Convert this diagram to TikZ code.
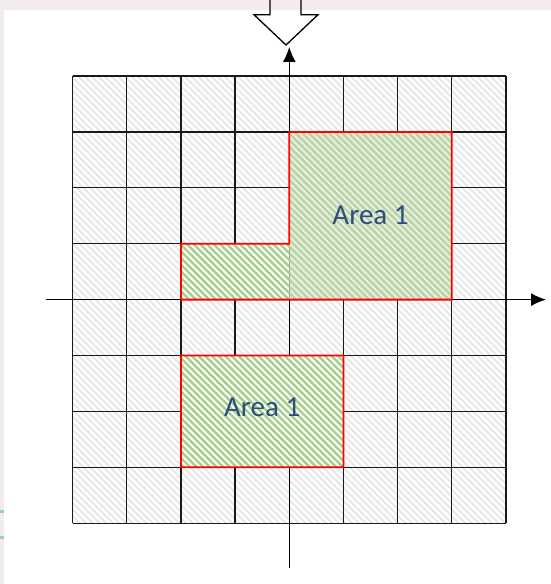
\documentclass[tikz,border=0pt]{standalone}
\usepackage{fontspec}
\setmainfont{Carlito}
\usetikzlibrary{arrows.meta}

\definecolor{bgpink}{RGB}{242,236,236}
\definecolor{bgblue}{RGB}{150,205,222}
\definecolor{hatchgray}{RGB}{232,232,232}
\definecolor{areagreen}{RGB}{166,208,138}
\definecolor{areagreenlt}{RGB}{184,214,160}
\definecolor{areagray}{RGB}{236,236,232}
\definecolor{labelblue}{RGB}{44,78,122}
\definecolor{borderred}{RGB}{255,0,0}

\tikzset{
  gridline/.style={line width=1.3, color=black!90},
  axisline/.style={line width=1.3, -{Latex[length=15pt,width=13pt]}},
  cellstripe/.style={line width=2pt, color=hatchgray},
  areastripe/.style={line width=2.4pt, color=areagreen},
  areastripelt/.style={line width=2.4pt, color=areagreenlt},
  areaborder/.style={fill=borderred, even odd rule},
  arealabel/.style={text=labelblue, font=\fontsize{29}{29}\selectfont, inner sep=0pt},
  hollowarrow/.style={line width=1.3, line join=miter}
}

\begin{document}
\begin{tikzpicture}[x=54.16pt, y=55.9pt]
\useasboundingbox[fill=white](-5.342,-5.088) rectangle (4.832,5.360);
\fill[bgpink](-5.342,5.181) rectangle (4.832,5.360);
\fill[bgpink](-5.342,-5.088) rectangle (-5.268,5.181);
\fill[bgblue](-5.342,-3.812) rectangle (-5.268,-3.764);
\fill[bgblue](-5.342,-4.283) rectangle (-5.268,-4.229);

\begin{scope}
\clip(-4,-4) rectangle (4,4);
\foreach \c in {-446.6,-439.95,...,446.6}
  \draw[cellstripe](\c pt-240pt,240pt) -- (\c pt+240pt,-240pt);
\end{scope}

\draw[gridline](-4,-4) -- (-4,4);
\draw[gridline](-3,-4) -- (-3,4);
\draw[gridline](-2,-4) -- (-2,4);
\draw[gridline](-1,-4) -- (-1,4);
\draw[gridline](1,-4) -- (1,4);
\draw[gridline](2,-4) -- (2,4);
\draw[gridline](3,-4) -- (3,4);
\draw[gridline](4,-4) -- (4,4);

\draw[gridline](-4,-4) -- (4,-4);
\draw[gridline](-4,-3) -- (4,-3);
\draw[gridline](-4,-2) -- (4,-2);
\draw[gridline](-4,-1) -- (4,-1);
\draw[gridline](-4,1) -- (4,1);
\draw[gridline](-4,2) -- (4,2);
\draw[gridline](-4,3) -- (4,3);
\draw[gridline](-4,4) -- (4,4);

\draw[axisline](-4.498,0) -- (4.74,0);
\draw[axisline](0,-4.80) -- (0,4.52);

\begin{scope}
\clip(0,0) rectangle (3,3);
\fill[areagray](0,0) rectangle (3,3);
\foreach \c in {-6.65,0,...,340}
  \draw[areastripelt](\c pt-200pt,200pt) -- (\c pt+200pt,-200pt);
\end{scope}

\begin{scope}
\clip(-2,0) rectangle (0,1);
\fill[white](-2,0) rectangle (0,1);
\foreach \c in {-120,-113.35,...,60}
  \draw[areastripe](\c pt-100pt,100pt) -- (\c pt+100pt,-100pt);
\end{scope}

\begin{scope}
\clip(-2,-3) rectangle (1,-1);
\fill[white](-2,-3) rectangle (1,-1);
\foreach \c in {-300,-293.35,...,0}
  \draw[areastripe](\c pt-200pt,200pt) -- (\c pt+200pt,-200pt);
\end{scope}

\path[areaborder](-0.0166,3.0161) -- (3.0166,3.0161) -- (3.0166,-0.0161) -- (-2.0166,-0.0161)
  -- (-2.0166,1.0161) -- (-0.0166,1.0161) -- cycle
  (0.0166,2.9839) -- (2.9834,2.9839) -- (2.9834,0.0161) -- (-1.9834,0.0161)
  -- (-1.9834,0.9839) -- (0.0166,0.9839) -- cycle;
\path[areaborder](-2.0166,-0.9839) rectangle (1.0166,-3.0161)
  (-1.9834,-1.0161) rectangle (0.9834,-2.9839);

\node[arealabel] (upperarea) at (1.5,1.5) {Area 1};
\node[arealabel] (lowerarea) at (-0.5,-1.92) {Area 1};

\draw[hollowarrow](-0.356,5.45) -- (-0.356,5.097) -- (-0.652,5.097) -- (-0.061,4.555)
  -- (0.530,5.097) -- (0.216,5.097) -- (0.216,5.45);
\end{tikzpicture}
\end{document}
